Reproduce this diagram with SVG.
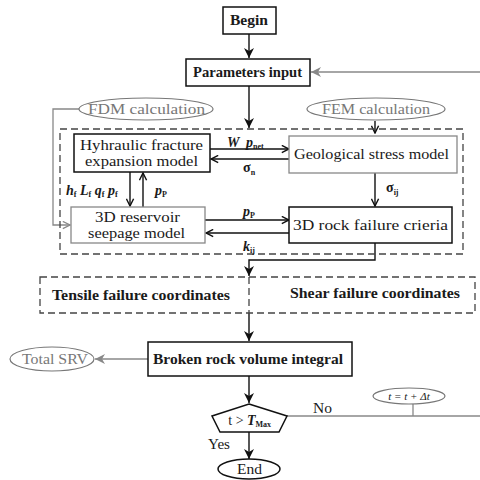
<svg xmlns="http://www.w3.org/2000/svg" width="480" height="480" viewBox="0 0 480 480" font-family="'Liberation Serif', 'DejaVu Serif', serif">
<style>
text{font-family:'Liberation Serif','DejaVu Serif',serif;fill:#1a1a1a}
.b{font-weight:bold}
.t13{font-size:14px}
.g{fill:#777}
.box{fill:#fff;stroke:#111;stroke-width:1.5}
.gbox{fill:#fff;stroke:#888;stroke-width:1.3}
.ell{fill:#fff;stroke:#777;stroke-width:1.2}
.ln{fill:none;stroke:#111;stroke-width:1.4}
.gl{fill:none;stroke:#888;stroke-width:1.3}
.dash{fill:none;stroke:#444;stroke-width:1.3;stroke-dasharray:7,4}
.lab{font-style:italic;font-weight:bold;font-size:14px}
.sub{font-size:8px;font-style:normal}
</style>
<defs>
<marker id="af" viewBox="0 0 10 10" refX="10" refY="5" markerWidth="10" markerHeight="10" markerUnits="userSpaceOnUse" orient="auto"><path d="M0,0 L10,5 L0,10 L3,5 z" fill="#111"/></marker>
<marker id="ao" viewBox="0 0 10 10" refX="9" refY="5" markerWidth="9" markerHeight="9" markerUnits="userSpaceOnUse" orient="auto"><path d="M1,1 L9,5 L1,9" fill="none" stroke="#111" stroke-width="1.6"/></marker>
<marker id="ag" viewBox="0 0 10 10" refX="10" refY="5" markerWidth="10" markerHeight="10" markerUnits="userSpaceOnUse" orient="auto"><path d="M0,0 L10,5 L0,10 L3,5 z" fill="#888"/></marker>
<marker id="ago" viewBox="0 0 10 10" refX="9" refY="5" markerWidth="9" markerHeight="9" markerUnits="userSpaceOnUse" orient="auto"><path d="M1,1 L9,5 L1,9" fill="none" stroke="#888" stroke-width="1.4"/></marker>
</defs>

<g id="connectors">
<line class="ln" x1="249" y1="34" x2="249" y2="58" marker-end="url(#af)"/>
<line class="gl" x1="480" y1="72" x2="311" y2="72" marker-end="url(#ag)"/>
<line class="ln" x1="249" y1="86" x2="249" y2="128" marker-end="url(#af)"/>
<polyline class="gl" points="79,109 53,109 53,225 70,225" marker-end="url(#ago)"/>
<line class="ln" x1="375" y1="121" x2="375" y2="133" marker-end="url(#ao)"/>
<line class="ln" x1="210" y1="149" x2="289" y2="149" marker-end="url(#ao)"/>
<line class="ln" x1="289" y1="159" x2="211" y2="159" marker-end="url(#ao)"/>
<line class="ln" x1="205" y1="220" x2="289" y2="220" marker-end="url(#ao)"/>
<line class="ln" x1="289" y1="233" x2="206" y2="233" marker-end="url(#ao)"/>
<line class="ln" x1="130" y1="172" x2="130" y2="206" marker-end="url(#ao)"/>
<line class="ln" x1="143" y1="207" x2="143" y2="173" marker-end="url(#ao)"/>
<line class="ln" x1="375" y1="173" x2="375" y2="206" marker-end="url(#ao)"/>
<polyline class="ln" points="375,243 375,260 249,260 249,276" marker-end="url(#af)"/>
<line class="ln" x1="249" y1="313" x2="249" y2="341" marker-end="url(#af)"/>
<line class="gl" x1="148" y1="359" x2="95" y2="359" marker-end="url(#ag)"/>
<line class="ln" x1="249" y1="376" x2="249" y2="403" marker-end="url(#af)"/>
<line class="ln" x1="249" y1="432" x2="249" y2="459" marker-end="url(#af)"/>
<line class="gl" x1="287" y1="416" x2="480" y2="416"/>
<line class="gl" x1="413" y1="404" x2="413" y2="416"/>
</g>

<g id="frame"><rect class="dash" x="60" y="129" width="403" height="125"/></g>

<g id="begin"><rect class="box" x="223" y="7" width="53" height="27"/><text class="b t13" x="230" y="25" textLength="38" lengthAdjust="spacingAndGlyphs">Begin</text></g>
<g id="params"><rect class="box" x="186" y="59" width="124" height="27"/><text class="b t13" x="193" y="77" textLength="109" lengthAdjust="spacingAndGlyphs">Parameters input</text></g>
<g id="fdm"><ellipse class="ell" cx="146" cy="109" rx="67" ry="11"/><text class="g t13" x="88" y="114" textLength="117" lengthAdjust="spacingAndGlyphs">FDM  calculation</text></g>
<g id="fem"><ellipse class="ell" cx="376" cy="109" rx="69" ry="11"/><text class="g t13" x="322" y="114" textLength="108" lengthAdjust="spacingAndGlyphs">FEM calculation</text></g>
<g id="hydraulic"><rect class="box" x="74" y="134" width="136" height="38"/><text class="t13" x="80" y="150" textLength="123" lengthAdjust="spacingAndGlyphs">Hyhraulic fracture</text><text class="t13" x="85" y="166" textLength="113" lengthAdjust="spacingAndGlyphs">expansion model</text></g>
<g id="geo"><rect class="gbox" x="289" y="136" width="168" height="37"/><text class="t13" x="294" y="159" textLength="155" lengthAdjust="spacingAndGlyphs">Geological stress model</text></g>
<g id="reservoir"><rect class="gbox" x="71" y="207" width="134" height="36"/><text class="t13" x="95" y="222" textLength="85" lengthAdjust="spacingAndGlyphs">3D reservoir</text><text class="t13" x="88" y="238" textLength="97" lengthAdjust="spacingAndGlyphs">seepage model</text></g>
<g id="rock"><rect class="box" x="289" y="207" width="163" height="36"/><text class="t13" x="293" y="230" textLength="155" lengthAdjust="spacingAndGlyphs">3D rock  failure  crieria</text></g>

<g id="labels">
<text class="lab" x="227" y="147">W</text>
<text class="lab" x="246" y="147">p<tspan class="sub" dy="2">net</tspan></text>
<text class="b" style="font-size:14px" x="243" y="172">σ<tspan class="sub" dy="3">n</tspan></text>
<text class="lab" x="243" y="216">p<tspan class="sub" dy="2">P</tspan></text>
<text class="lab" x="243" y="251">k<tspan class="sub" dy="2">ij</tspan></text>
<text class="lab" x="66" y="195">h<tspan class="sub" dy="2">f</tspan><tspan dy="-2"> L</tspan><tspan class="sub" dy="2">f</tspan><tspan dy="-2"> q</tspan><tspan class="sub" dy="2">f</tspan><tspan dy="-2"> p</tspan><tspan class="sub" dy="2">f</tspan></text>
<text class="lab" x="155" y="195">p<tspan class="sub" dy="2">P</tspan></text>
<text class="b" style="font-size:14px" x="386" y="192">σ<tspan class="sub" dy="3">ij</tspan></text>
</g>

<g id="failure"><rect class="dash" x="40" y="277" width="435" height="36"/><line class="dash" x1="249" y1="277" x2="249" y2="313"/><text class="b t13" x="52" y="300" textLength="178" lengthAdjust="spacingAndGlyphs">Tensile  failure  coordinates</text><text class="b t13" x="290" y="298" textLength="170" lengthAdjust="spacingAndGlyphs">Shear  failure  coordinates</text></g>
<g id="broken"><rect class="box" x="148" y="342" width="204" height="34"/><text class="b t13" x="153" y="364" textLength="190" lengthAdjust="spacingAndGlyphs">Broken  rock volume integral</text></g>
<g id="srv"><ellipse class="ell" cx="52" cy="359" rx="42" ry="12"/><text class="g t13" x="22" y="364" textLength="66" lengthAdjust="spacingAndGlyphs">Total SRV</text></g>
<g id="decision"><polygon class="box" points="249,404 287,416 279,432 220,432 212,416"/><text class="t13" x="236" y="425" text-anchor="middle">t &gt; </text><text class="lab" x="247" y="425">T<tspan class="sub" dy="2">Max</tspan></text></g>
<g id="step"><ellipse class="ell" cx="409" cy="396" rx="36" ry="8"/><text style="font-size:11px;font-style:italic" x="409" y="400" text-anchor="middle">t = t + Δt</text></g>
<g id="end"><ellipse class="box" cx="249" cy="469" rx="31" ry="10"/><text class="t13" x="237" y="474" textLength="25" lengthAdjust="spacingAndGlyphs">End</text></g>
<text class="t13" x="313" y="413" textLength="19" lengthAdjust="spacingAndGlyphs">No</text>
<text class="t13" x="208" y="449" textLength="22" lengthAdjust="spacingAndGlyphs">Yes</text>
</svg>
